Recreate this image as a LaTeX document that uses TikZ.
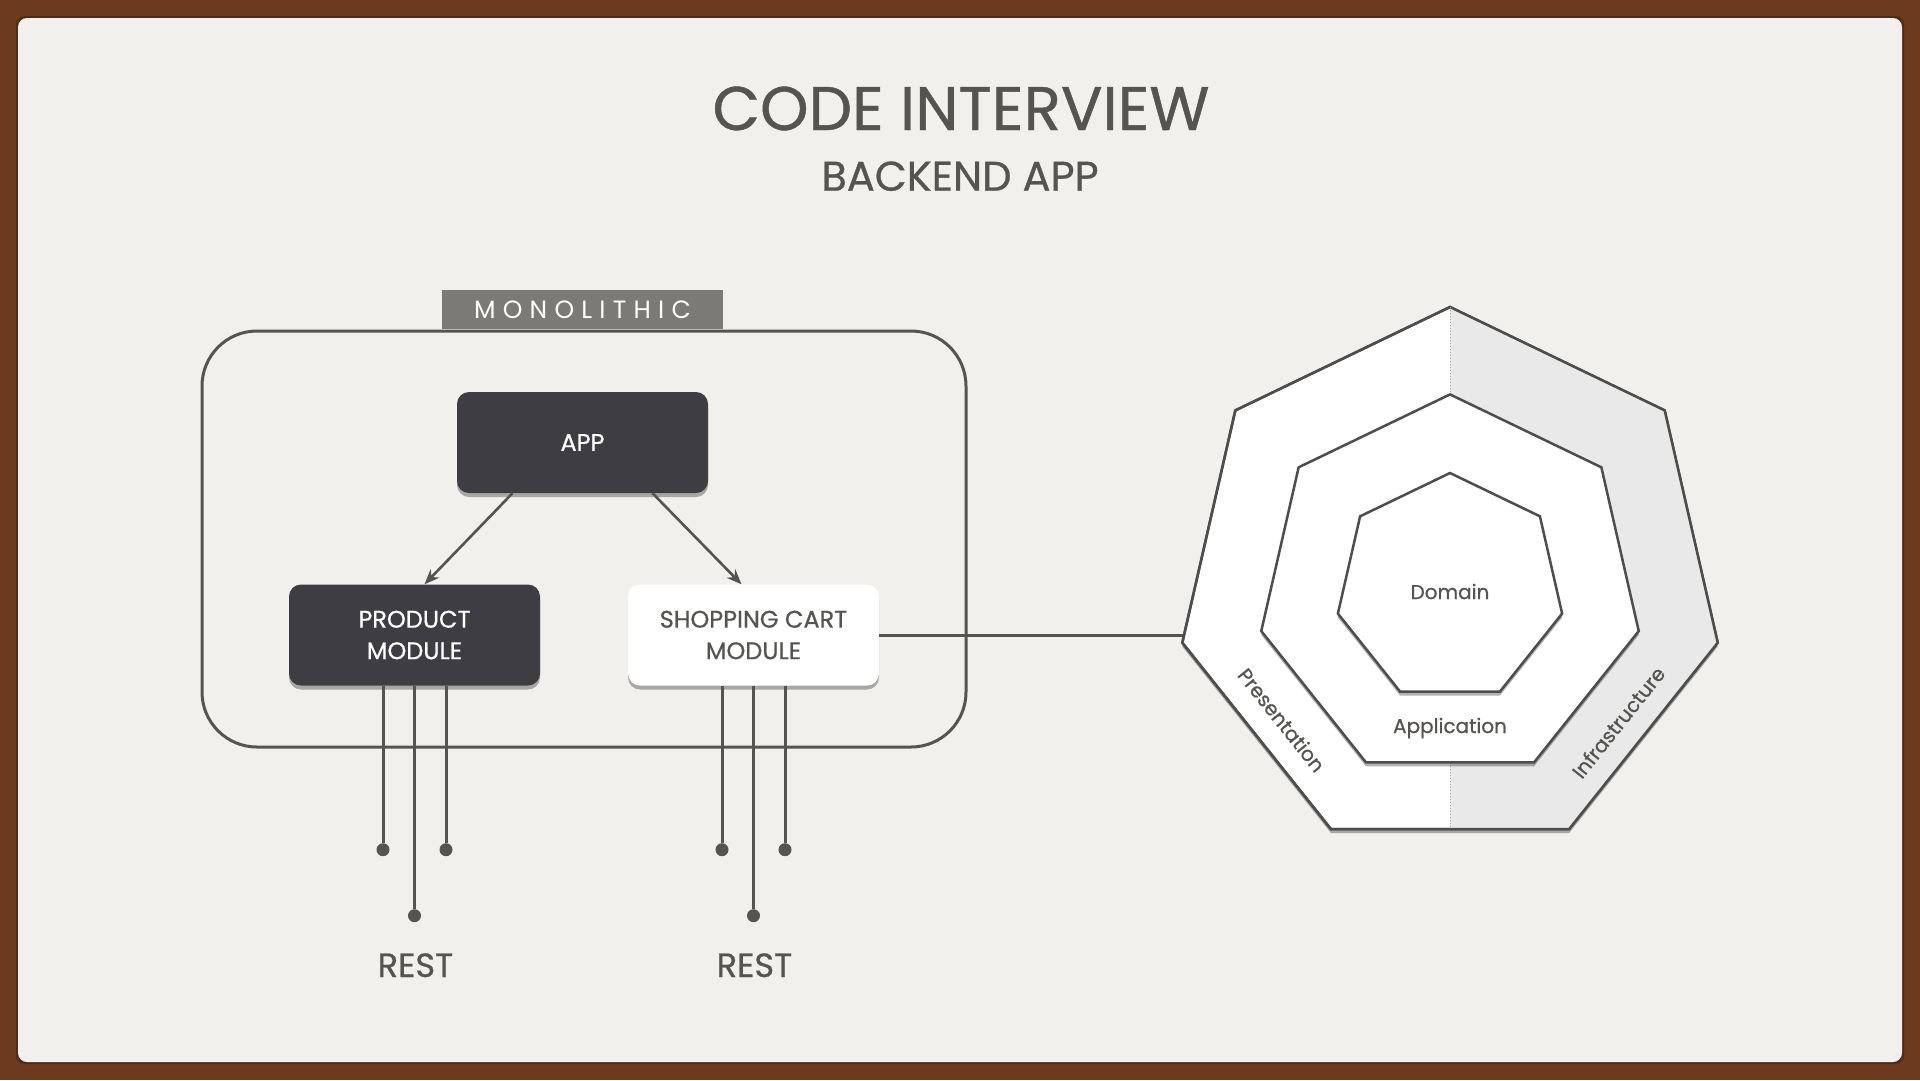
\documentclass[tikz,border=0pt]{standalone}
\usepackage{fontspec}
\setmainfont{Poppins}[FakeBold=0.7]
\newfontfamily\trackedfont{Poppins}[LetterSpace=29]
\usetikzlibrary{arrows.meta, shapes.geometric, shadows}

\definecolor{framebrown}{HTML}{6B3A1F}
\definecolor{paper}{HTML}{F1F0EC}
\definecolor{ink}{HTML}{555451}
\definecolor{boxdark}{HTML}{3E3D41}
\definecolor{tag}{HTML}{7B7A76}
\definecolor{ringgray}{HTML}{E9E9E9}
\definecolor{edge}{HTML}{4D4D4D}

\begin{document}
\begin{tikzpicture}[x=1pt, y=-1pt,
  softshadow/.style={drop shadow={opacity=0.3, fill=black, shadow xshift=0pt, shadow yshift=-4pt}},
  modbox/.style={rounded corners=12pt, minimum width=251pt, minimum height=101pt,
                 inner sep=0pt, align=center, font=\fontsize{24}{31.5}\selectfont, softshadow},
  darkbox/.style={modbox, fill=boxdark, text=white},
  lightbox/.style={modbox, fill=white, text=ink},
  arr/.style={-{Stealth[length=15pt, width=12pt]}, line width=2.6pt, draw=ink},
  wire/.style={line width=3pt, draw=ink},
  plug/.style={circle, fill=ink, inner sep=0pt, minimum size=13pt},
  hept/.style={regular polygon, regular polygon sides=7, inner sep=0pt, outer sep=0pt,
               draw=edge, line width=2.5pt, fill=white, softshadow},
  layer/.style={font=\fontsize{20}{24}\selectfont, text=ink}
]
  % slide background
  \useasboundingbox (0,0) rectangle (1920,1080);
  \fill[framebrown] (0,0) rectangle (1920,1080);
  \fill[black, opacity=0.25, rounded corners=9pt] (16,16) rectangle (1904,1064);
  \fill[paper, rounded corners=9pt] (18,18) rectangle (1902,1062);

  % titles
  \node[font=\fontsize{61.6}{70}\selectfont, text=ink, anchor=base] (title) at (961,130) {CODE INTERVIEW};
  \node[font=\fontsize{41.5}{48}\selectfont, text=ink, anchor=base] (subtitle) at (960,190.7) {BACKEND APP};

  % monolith
  \node[draw=ink, line width=3pt, rounded corners=55pt, minimum width=764pt,
        minimum height=416pt, inner sep=0pt] (mono) at (584,539) {};
  \node[fill=tag, text=white, minimum width=281pt, minimum height=39pt, inner sep=0pt,
        font=\trackedfont\fontsize{25}{25}\selectfont] (monotag) at (582.5,309.5) {MONOLITHIC};

  \node[darkbox]  (app)  at (582.5,442.5) {APP};
  \node[darkbox]  (prod) at (414.5,635)   {PRODUCT\\MODULE};
  \node[lightbox] (shop) at (753.5,635)   {SHOPPING CART\\MODULE};

  \draw[arr] ([xshift=-70pt]app.south) -- ([xshift=10pt]prod.north);
  \draw[arr] ([xshift=70pt]app.south)  -- ([xshift=-12pt]shop.north);

  % endpoints
  \foreach \m in {prod, shop} {
    \foreach \k/\dx/\len in {a/-31.5/164, b/0/230, c/31.5/164} {
      \node[plug] (\m-\k) at ([xshift=\dx pt, yshift=-\len pt]\m.south) {};
      \draw[wire] (\m-\k |- \m.south) -- (\m-\k);
    }
  }
  \node[font=\fontsize{33.6}{40}\selectfont, text=ink, anchor=base] (prod-rest) at (415.5,977) {REST};
  \node[font=\fontsize{33.6}{40}\selectfont, text=ink, anchor=base] (shop-rest) at (754.5,977) {REST};

  % layered view of the cart module
  \coordinate (hexc) at (1450,630);
  \draw[wire] (shop.east) -- (shop.east -| hexc);

  \node[hept, minimum size=549.2pt] (outer) at (1450,581.6) {};
  \fill[ringgray] (outer.corner 1) -- (outer.corner 7) -- (outer.corner 6) -- (outer.corner 5)
    -- (outer.corner 1 |- outer.corner 5) -- cycle;
  \draw[edge, line width=2.5pt, line join=round] (outer.corner 1) -- (outer.corner 2) -- (outer.corner 3)
    -- (outer.corner 4) -- (outer.corner 5) -- (outer.corner 6) -- (outer.corner 7) -- cycle;
  \draw[gray!70, dotted, line width=1pt] (outer.corner 1) -- (outer.corner 1 |- outer.corner 5);

  \node[hept, minimum size=387.2pt] (mid)  at (1450,588) {};
  \node[hept, minimum size=230pt]   (core) at (1450,588) {};

  \node[layer, anchor=base] (domain) at (1450,599) {Domain};
  \node[layer, anchor=base] (application) at (1450,733) {Application};
  \node[layer, rotate=-51.43] (presentation) at (1281.7,720) {Presentation};
  \node[layer, rotate=51.43]  (infrastructure) at (1618.3,722.3) {Infrastructure};
\end{tikzpicture}
\end{document}
